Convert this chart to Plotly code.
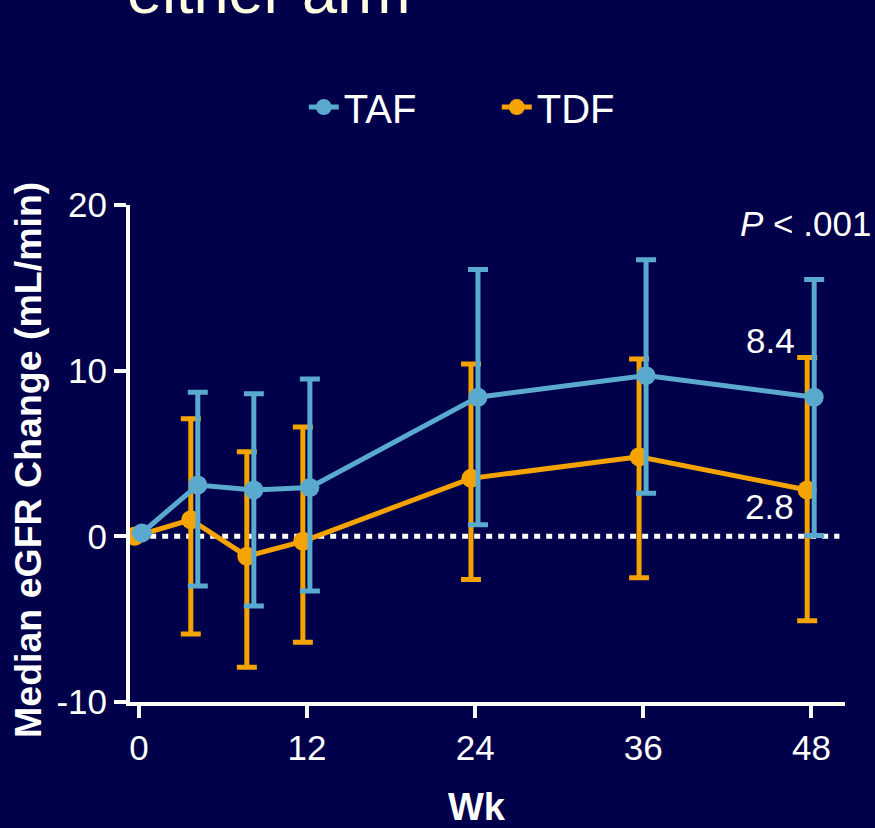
import plotly.graph_objects as go

weeks = [0, 4, 8, 12, 24, 36, 48]
taf_median = [0.2, 3.1, 2.8, 2.95, 8.4, 9.7, 8.4]
taf_upper = [None, 8.7, 8.6, 9.5, 16.1, 16.7, 15.5]
taf_lower = [None, -3.0, -4.2, -3.3, 0.7, 2.6, 0.05]
tdf_median = [0.0, 1.0, -1.2, -0.3, 3.5, 4.8, 2.8]
tdf_upper = [None, 7.1, 5.1, 6.6, 10.4, 10.7, 10.8]
tdf_lower = [None, -5.9, -7.9, -6.4, -2.6, -2.5, -5.1]
x_ticks = [0, 12, 24, 36, 48]
y_ticks = [-10, 0, 10, 20]
y_tick_labels = ["-10", "0", "10", "20"]

BG = "#01004A"
TAF_C = "#5AAAD0"
TDF_C = "#F5A300"
FONT = "Liberation Sans, Arial, sans-serif"


def err(up, lo, med):
    plus = [0 if u is None else u - m for u, m in zip(up, med)]
    minus = [0 if l is None else m - l for l, m in zip(lo, med)]
    return plus, minus


fig = go.Figure()
for name, med, up, lo, col, off, rank in [
    ("TDF", tdf_median, tdf_upper, tdf_lower, TDF_C, -0.3, 2),
    ("TAF", taf_median, taf_upper, taf_lower, TAF_C, 0.2, 1),
]:
    plus, minus = err(up, lo, med)
    fig.add_trace(go.Scatter(
        x=[w + off for w in weeks], y=med, name=name, mode="lines+markers",
        line=dict(color=col, width=5), marker=dict(color=col, size=19),
        legendrank=rank,
        error_y=dict(type="data", array=plus, arrayminus=minus, visible=True,
                     color=col, thickness=5, width=10),
    ))

fig.add_shape(type="line", xref="x", yref="y", x0=0.8, x1=50.0, y0=0, y1=0,
              line=dict(color="white", width=5, dash="6px,6px"), layer="below")

fig.add_annotation(x=47.6, y=18.9, xref="x", yref="y", text="<i>P</i> < .001",
                   showarrow=False, font=dict(size=35, color="white", family=FONT))
fig.add_annotation(x=45.1, y=taf_median[-1] + 3.4, xref="x", yref="y",
                   text=f"{taf_median[-1]:.1f}", showarrow=False,
                   font=dict(size=35, color="white", family=FONT))
fig.add_annotation(x=45.0, y=tdf_median[-1] - 1.0, xref="x", yref="y",
                   text=f"{tdf_median[-1]:.1f}", showarrow=False,
                   font=dict(size=35, color="white", family=FONT))
fig.add_annotation(x=-0.007, y=1.356, xref="paper", yref="paper", xanchor="left",
                   yanchor="bottom", text="either arm", showarrow=False,
                   font=dict(size=63, color="#FFFDE0", family=FONT))
# axis titles
fig.add_annotation(x=-0.1427, y=0.487, xref="paper", yref="paper", textangle=-90,
                   xanchor="center", yanchor="middle",
                   text="<b>Median eGFR Change (mL/min)</b>", showarrow=False,
                   font=dict(size=37.5, color="white", family=FONT))
fig.add_annotation(x=0.485, y=-0.165, xref="paper", yref="paper", yanchor="top",
                   xanchor="center",
                   text="<b>Wk</b>", showarrow=False,
                   font=dict(size=38, color="white", family=FONT))

fig.update_layout(
    width=875, height=828,
    margin=dict(l=130, r=30, t=205, b=126),
    paper_bgcolor=BG, plot_bgcolor=BG,
    font=dict(family=FONT, color="white", size=35),
    showlegend=True,
    legend=dict(orientation="h", x=0.513, y=1.197, xanchor="center", yanchor="middle",
                font=dict(size=40, color="white"), bgcolor="rgba(0,0,0,0)",
                entrywidth=148, entrywidthmode="pixels"),
    xaxis=dict(range=[-0.64, 50.4], tickvals=x_ticks, showgrid=False, zeroline=False,
               showline=True, linecolor="white", linewidth=4, ticks="outside",
               ticklen=12, tickwidth=4, tickcolor="white",
               tickfont=dict(size=35, color="white")),
    yaxis=dict(range=[-10, 20], tickvals=y_ticks, ticktext=y_tick_labels,
               showgrid=False, zeroline=False,
               showline=True, linecolor="white", linewidth=4, ticks="outside",
               ticklen=12, tickwidth=4, tickcolor="white",
               tickfont=dict(size=35, color="white")),
)

fig.write_html("out.html", config={"displayModeBar": False},
               post_script="document.body.style.margin='0';")
